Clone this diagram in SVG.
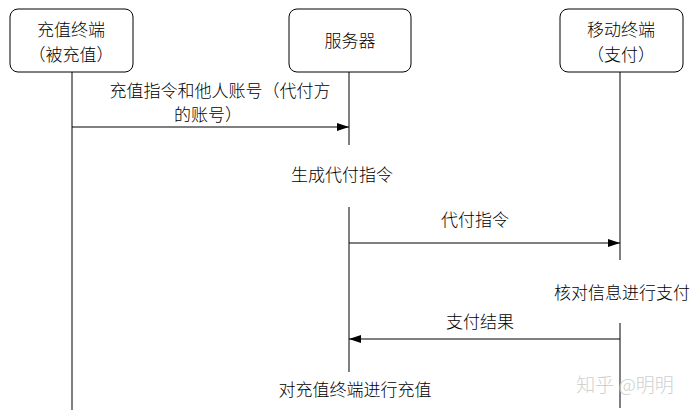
<svg xmlns="http://www.w3.org/2000/svg" width="695" height="412" viewBox="0 0 695 412">
<style>
.box{fill:#fff;stroke:#000;stroke-width:1}
.ll{stroke:#000;stroke-width:1;fill:none}
.msg{stroke:#000;stroke-width:1;fill:none}
text{font-family:"Noto Sans CJK SC",sans-serif;font-size:17px;font-weight:300;fill:#000;text-anchor:middle}
</style>
<defs><marker id="ah" markerWidth="12" markerHeight="8" refX="12" refY="4" orient="auto" markerUnits="userSpaceOnUse"><path d="M0,0 L12,4 L0,8 Z" fill="#000"/></marker></defs>
<rect width="695" height="412" fill="#fff"/>
<g id="n1"><rect class="box" x="10" y="9" width="123" height="63" rx="8"/><text x="71" y="36">充值终端</text><text x="71" y="61">（被充值）</text></g>
<g id="n2"><rect class="box" x="289" y="9" width="122" height="63" rx="8"/><text x="350" y="47">服务器</text></g>
<g id="n3"><rect class="box" x="560" y="9" width="123" height="63" rx="8"/><text x="621" y="36">移动终端</text><text x="621" y="61">（支付）</text></g>
<g id="connectors">
<path class="ll" d="M72 72V410M349 72V145M349 207V372M620 72V260M620 323V408"/>
<path class="msg" d="M72 127H349" marker-end="url(#ah)"/>
<path class="msg" d="M349 243H620" marker-end="url(#ah)"/>
<path class="msg" d="M620 339H349" marker-end="url(#ah)"/>
</g>
<text x="220" y="97">充值指令和他人账号（代付方</text>
<text x="208" y="121">的账号）</text>
<text x="342" y="181">生成代付指令</text>
<text x="475" y="226">代付指令</text>
<text x="622" y="299">核对信息进行支付</text>
<text x="480" y="328">支付结果</text>
<text x="355" y="396">对充值终端进行充值</text>
<text x="625" y="392" style="fill:#d0d0d0;font-size:19px">知乎 @明明</text>
</svg>
